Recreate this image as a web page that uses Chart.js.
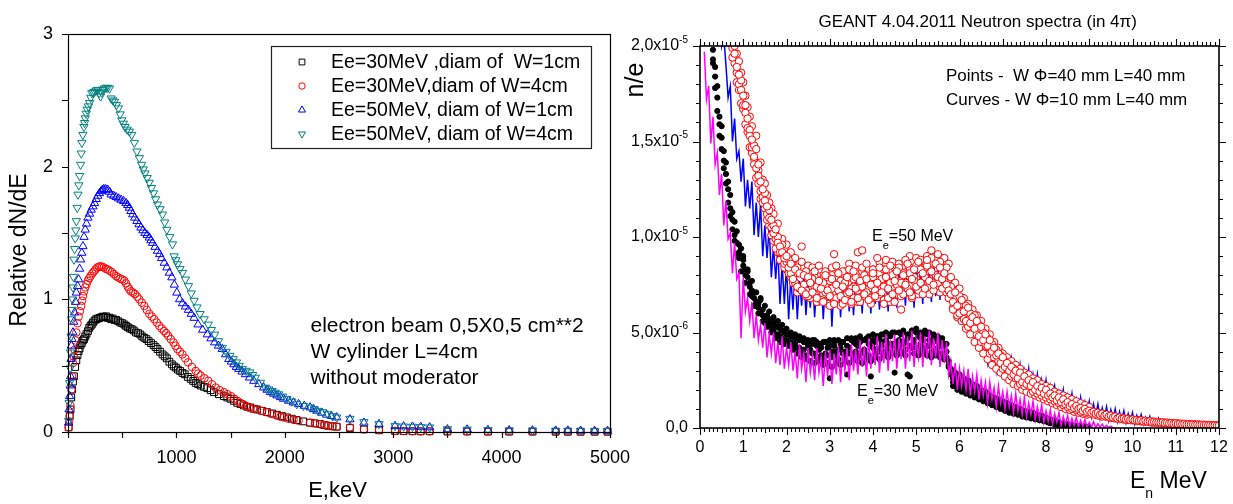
<!DOCTYPE html>
<html><head><meta charset="utf-8">
<script src="https://cdn.jsdelivr.net/npm/chart.js@4.4.1/dist/chart.umd.min.js"></script>
<style>
html,body{margin:0;padding:0;background:#fff;overflow:hidden;}
#wrap{position:relative;width:1233px;height:504px;}
canvas{position:absolute;top:0;}
#left{left:0;}
#right{left:620px;}
</style></head><body>
<div id="wrap"><canvas id="left" width="650" height="504"></canvas><canvas id="right" width="613" height="504"></canvas></div>
<script>
// ================= LEFT PANEL DATA =================
const leftLegendLabels = ['Ee=30MeV ,diam of  W=1cm','Ee=30MeV,diam of W=4cm','Ee=50MeV, diam of W=1cm','Ee=50MeV, diam of W=4cm'];
const leftXTickLabels = [1000,2000,3000,4000,5000];
const leftYTickLabels = [0,1,2,3];
const leftXTitle = 'E,keV';
const leftYTitle = 'Relative dN/dE';
const leftNotes = ['electron beam 0,5X0,5 cm**2','W cylinder L=4cm','without moderator'];

// [E keV, relative dN/dE]
const sq30_1 = [[6,0.035],[16,0.12],[24,0.17],[30,0.26],[37,0.32],[46,0.38],[55,0.42],[66,0.49],[77,0.54],[88,0.58],[98,0.61],[107,0.63],[116,0.655],[127,0.67],[138,0.69],[148,0.70],[159,0.72],[171,0.74],[184,0.76],[196,0.785],[208,0.80],[219,0.81],[230,0.825],[245,0.84],[260,0.85],[275,0.855],[291,0.86],[306,0.865],[321,0.87],[336,0.865],[352,0.872],[367,0.86],[383,0.862],[398,0.85],[413,0.855],[428,0.845],[444,0.845],[463,0.835],[483,0.825],[501,0.82],[520,0.81],[535,0.80],[551,0.79],[570,0.78],[588,0.775],[607,0.765],[627,0.75],[647,0.745],[667,0.735],[685,0.72],[704,0.71],[724,0.70],[744,0.685],[766,0.67],[789,0.655],[808,0.64],[826,0.625],[849,0.605],[872,0.585],[892,0.57],[912,0.555],[935,0.53],[958,0.51],[976,0.495],[995,0.485],[1014,0.47],[1034,0.46],[1056,0.445],[1077,0.435],[1105,0.415],[1132,0.40],[1155,0.385],[1178,0.37],[1201,0.36],[1224,0.35],[1255,0.34],[1285,0.33],[1316,0.315],[1346,0.30],[1392,0.285],[1438,0.27],[1469,0.26],[1499,0.25],[1530,0.235],[1561,0.22],[1592,0.21],[1622,0.20],[1653,0.19],[1683,0.185],[1714,0.175],[1744,0.17],[1790,0.16],[1836,0.15],[1882,0.14],[1928,0.13],[1974,0.12],[2020,0.11],[2065,0.10],[2110,0.09],[2170,0.08],[2232,0.07],[2280,0.065],[2325,0.06],[2365,0.052],[2401,0.047],[2440,0.043],[2479,0.04],[2601,0.03],[2730,0.02],[2869,0.013],[3017,0.008],[3096,0.007],[3178,0.006],[3254,0.005],[3336,0.005],[3500,0.004],[3682,0.004],[3874,0.003],[4070,0.003],[4285,0.003],[4499,0.002],[4611,0.002],[4729,0.002],[4858,0.002],[4977,0.002]];
const ci30_4 = [[6,0.035],[10,0.08],[15,0.12],[22,0.2],[31,0.32],[38,0.42],[46,0.52],[53,0.57],[61,0.62],[69,0.69],[77,0.75],[88,0.82],[98,0.87],[110,0.91],[122,0.95],[130,0.99],[138,1.025],[148,1.06],[159,1.09],[171,1.115],[184,1.14],[196,1.16],[208,1.175],[224,1.195],[239,1.21],[254,1.225],[269,1.24],[285,1.245],[300,1.25],[315,1.245],[330,1.24],[348,1.23],[367,1.225],[385,1.215],[404,1.205],[424,1.19],[444,1.175],[463,1.165],[483,1.155],[501,1.15],[520,1.14],[535,1.12],[551,1.095],[566,1.075],[581,1.06],[600,1.05],[618,1.04],[638,1.02],[658,1.0],[681,0.975],[704,0.95],[727,0.92],[750,0.89],[773,0.87],[796,0.85],[819,0.825],[842,0.80],[865,0.78],[887,0.76],[905,0.745],[924,0.725],[948,0.70],[973,0.675],[991,0.65],[1010,0.625],[1033,0.605],[1056,0.585],[1082,0.555],[1108,0.525],[1143,0.49],[1178,0.46],[1201,0.44],[1224,0.425],[1259,0.405],[1294,0.385],[1328,0.36],[1362,0.335],[1400,0.315],[1438,0.30],[1471,0.285],[1505,0.27],[1533,0.25],[1561,0.235],[1588,0.22],[1616,0.21],[1642,0.195],[1668,0.185],[1706,0.175],[1744,0.17],[1790,0.158],[1836,0.148],[1882,0.135],[1928,0.123],[1960,0.115],[1989,0.11],[2035,0.10],[2080,0.092],[2127,0.085],[2232,0.07],[2280,0.065],[2325,0.058],[2365,0.052],[2401,0.047],[2440,0.043],[2479,0.04],[2601,0.035],[2730,0.02],[2869,0.015],[3017,0.008],[3096,0.007],[3178,0.006],[3254,0.005],[3336,0.005],[3500,0.004],[3682,0.004],[3874,0.003],[4070,0.003],[4285,0.003],[4499,0.002],[4611,0.002],[4729,0.002],[4858,0.002],[4977,0.002]];
const tu50_1 = [[6,0.07],[10,0.17],[15,0.27],[20,0.35],[24,0.42],[28,0.55],[31,0.65],[38,0.70],[46,0.75],[53,0.83],[61,0.90],[69,0.98],[77,1.05],[88,1.10],[98,1.15],[107,1.23],[116,1.30],[127,1.35],[138,1.40],[148,1.47],[159,1.525],[171,1.57],[184,1.615],[199,1.645],[214,1.675],[230,1.70],[245,1.725],[260,1.755],[275,1.78],[290,1.80],[306,1.815],[318,1.825],[330,1.83],[348,1.83],[367,1.825],[383,1.81],[398,1.79],[421,1.78],[444,1.77],[467,1.76],[490,1.75],[513,1.74],[536,1.725],[551,1.71],[566,1.69],[581,1.665],[597,1.64],[616,1.615],[636,1.59],[655,1.565],[673,1.54],[691,1.52],[710,1.50],[730,1.485],[750,1.465],[765,1.445],[780,1.425],[803,1.395],[826,1.365],[845,1.34],[863,1.31],[888,1.275],[912,1.24],[935,1.20],[958,1.165],[981,1.11],[1004,1.05],[1030,1.0],[1056,0.97],[1083,0.945],[1111,0.92],[1137,0.89],[1163,0.86],[1200,0.81],[1242,0.77],[1285,0.735],[1319,0.705],[1353,0.675],[1388,0.65],[1423,0.625],[1454,0.585],[1484,0.55],[1507,0.53],[1530,0.51],[1553,0.49],[1576,0.475],[1606,0.455],[1637,0.435],[1675,0.41],[1714,0.385],[1760,0.36],[1805,0.335],[1836,0.318],[1867,0.30],[1898,0.288],[1928,0.275],[1960,0.262],[1989,0.25],[2035,0.235],[2080,0.222],[2127,0.21],[2180,0.197],[2234,0.185],[2265,0.172],[2295,0.16],[2340,0.145],[2385,0.13],[2430,0.12],[2479,0.11],[2601,0.095],[2730,0.07],[2869,0.06],[3017,0.045],[3096,0.042],[3178,0.04],[3254,0.038],[3336,0.035],[3500,0.02],[3682,0.018],[3874,0.015],[4070,0.013],[4285,0.012],[4499,0.01],[4611,0.01],[4729,0.009],[4858,0.008],[4977,0.008]];
const td50_4 = [[6,0.085],[10,0.22],[15,0.37],[20,0.48],[24,0.60],[28,0.72],[33,0.85],[37,0.92],[42,1.0],[46,1.09],[50,1.17],[55,1.30],[61,1.38],[67,1.46],[72,1.52],[77,1.59],[85,1.69],[92,1.79],[100,1.86],[107,1.93],[116,2.015],[122,2.10],[128,2.18],[137,2.24],[147,2.30],[153,2.33],[159,2.365],[168,2.40],[177,2.43],[188,2.455],[199,2.48],[210,2.52],[220,2.555],[232,2.56],[245,2.565],[260,2.575],[275,2.58],[288,2.555],[300,2.53],[311,2.56],[321,2.58],[336,2.59],[352,2.595],[367,2.595],[383,2.59],[398,2.515],[413,2.50],[428,2.49],[447,2.465],[465,2.44],[481,2.395],[496,2.35],[511,2.325],[526,2.30],[546,2.28],[566,2.265],[588,2.24],[612,2.18],[636,2.115],[658,2.065],[679,2.015],[695,1.98],[710,1.95],[730,1.915],[750,1.88],[770,1.84],[789,1.80],[808,1.755],[826,1.715],[849,1.68],[872,1.64],[892,1.58],[912,1.525],[938,1.47],[964,1.415],[979,1.325],[995,1.295],[1010,1.265],[1033,1.23],[1056,1.20],[1083,1.15],[1111,1.10],[1137,1.045],[1163,0.99],[1190,0.94],[1218,0.89],[1256,0.85],[1294,0.81],[1323,0.77],[1353,0.735],[1388,0.685],[1423,0.635],[1458,0.605],[1493,0.575],[1524,0.55],[1554,0.525],[1580,0.50],[1607,0.475],[1642,0.462],[1677,0.45],[1703,0.43],[1729,0.41],[1775,0.372],[1821,0.335],[1852,0.322],[1882,0.31],[1912,0.297],[1943,0.285],[1981,0.268],[2020,0.25],[2065,0.23],[2111,0.21],[2172,0.197],[2234,0.185],[2272,0.172],[2310,0.16],[2350,0.15],[2395,0.135],[2440,0.12],[2479,0.11],[2601,0.10],[2730,0.075],[2869,0.06],[3017,0.045],[3096,0.042],[3178,0.04],[3254,0.038],[3336,0.035],[3500,0.022],[3682,0.018],[3874,0.015],[4070,0.013],[4285,0.012],[4499,0.01],[4611,0.01],[4729,0.009],[4858,0.008],[4977,0.008]];

// ================= RIGHT PANEL DATA =================
const rightTitle = 'GEANT 4.04.2011 Neutron spectra (in 4\u03C0)';
const rightNotes = ['Points -  W \u03A6=40 mm L=40 mm','Curves - W \u03A6=10 mm L=40 mm'];
const rightXTickLabels = ['0','1','2','3','4','5','6','7','8','9','10','11','12'];
const rightYTickValues = [0,5,10,15,20];            // units of 1e-6
const rightYTickLabels = [['0,0',''],['5,0x10','-6'],['1,0x10','-5'],['1,5x10','-5'],['2,0x10','-5']];

// neutron energy bins, MeV
const binE = [0.1,0.15,0.2,0.25,0.3,0.35,0.4,0.45,0.5,0.55,0.6,0.65,0.7,0.75,0.8,0.85,0.9,0.95,1,1.05,
1.1,1.15,1.2,1.25,1.3,1.35,1.4,1.45,1.5,1.55,1.6,1.65,1.7,1.75,1.8,1.85,1.9,1.95,2,2.05,
2.1,2.15,2.2,2.25,2.3,2.35,2.4,2.45,2.5,2.55,2.6,2.65,2.7,2.75,2.8,2.85,2.9,2.95,3,3.05,
3.1,3.15,3.2,3.25,3.3,3.35,3.4,3.45,3.5,3.55,3.6,3.65,3.7,3.75,3.8,3.85,3.9,3.95,4,4.05,
4.1,4.15,4.2,4.25,4.3,4.35,4.4,4.45,4.5,4.55,4.6,4.65,4.7,4.75,4.8,4.85,4.9,4.95,5,5.05,
5.1,5.15,5.2,5.25,5.3,5.35,5.4,5.45,5.5,5.55,5.6,5.65,5.7,5.75,5.8,5.85,5.9,5.95,6,6.05,
6.1,6.15,6.2,6.25,6.3,6.35,6.4,6.45,6.5,6.55,6.6,6.65,6.7,6.75,6.8,6.85,6.9,6.95,7,7.05,
7.1,7.15,7.2,7.25,7.3,7.35,7.4,7.45,7.5,7.55,7.6,7.65,7.7,7.75,7.8,7.85,7.9,7.95,8,8.05,
8.1,8.15,8.2,8.25,8.3,8.35,8.4,8.45,8.5,8.55,8.6,8.65,8.7,8.75,8.8,8.85,8.9,8.95,9,9.05,
9.1,9.15,9.2,9.25,9.3,9.35,9.4,9.45,9.5,9.55,9.6,9.65,9.7,9.75,9.8,9.85,9.9,9.95,10,10.05,
10.1,10.15,10.2,10.25,10.3,10.35,10.4,10.45,10.5,10.55,10.6,10.65,10.7,10.75,10.8,10.85,10.9,10.95,11,11.05,
11.1,11.15,11.2,11.25,11.3,11.35,11.4,11.45,11.5,11.55,11.6,11.65,11.7,11.75,11.8,11.85,11.9,11.95,12];

// n/e in units of 1e-6; each series starts at the given binE index
const magentaFrom = 0;   // curve, W phi=10 mm, Ee=30 MeV
const magenta10 = [19.7,17.2,17.9,14.9,16.3,13.8,14.4,12.2,13.3,10.6,
11.9,9.9,10.2,8.1,9.7,7.8,8.1,4.7,7.9,6.1,
6.8,5.6,6.6,4.7,5.9,4.6,5.4,4.2,5.5,3.7,
4.9,3.9,5.0,3.4,4.5,3.3,4.8,3.1,4.2,3.3,
4.5,3.0,4.0,2.6,4.4,3.1,3.9,2.4,4.2,2.9,
3.8,2.5,4.2,2.9,3.7,2.2,4.0,2.7,4.1,2.3,
3.9,2.8,4.3,2.4,4.0,3.0,4.2,2.5,4.4,3.0,
4.1,2.8,4.6,3.2,4.3,2.7,4.7,3.1,4.4,3.3,
4.8,2.9,4.5,3.4,4.9,3.0,4.6,3.5,4.9,3.1,
4.7,3.6,5.0,3.1,4.8,3.5,5.1,3.2,4.6,3.7,
5.0,3.2,4.8,3.6,5.1,3.3,4.7,3.7,5.0,3.2,
4.6,3.4,4.5,2.8,3.5,2.3,3.4,2.0,3.1,2.2,
3.0,2.0,3.1,1.7,2.7,1.9,2.8,1.5,2.5,1.7,
2.4,1.3,2.4,1.5,2.1,1.1,2.2,1.3,1.9,1.0,
1.9,1.1,1.7,0.8,1.8,0.9,1.5,0.7,1.6,0.6,
1.3,0.7,1.4,0.45,1.1,0.5,1.2,0.3,0.9,0.35,
0.95,0.2,0.75,0.3,0.8,0.12,0.6,0.2,0.65,0.08,
0.5,0.12,0.55,0.05,0.4,0.08,0.45,0.03,0.3,0.05,
0.32,0.02,0.22,0.03,0.2,0.01,0.14,0.02,0.1,0.01,0];

const blueFrom = 7;      // curve, W phi=10 mm, Ee=50 MeV
const blue10 = [22.5,20.0,20.5,
19.0,17.3,17.9,15.0,16.2,14.1,14.5,12.9,14.1,11.6,
13.0,11.5,12.9,10.1,11.8,10.0,11.7,9.0,10.6,8.9,
10.5,7.9,9.5,7.8,9.4,6.5,8.6,6.5,8.5,5.7,
7.9,6.2,8.2,5.7,7.7,6.4,8.1,5.9,7.6,6.3,
8.0,5.8,7.5,6.4,7.9,5.7,7.6,6.5,8.0,5.3,
7.6,6.4,8.1,5.8,7.7,6.5,8.0,6.1,7.6,5.9,
8.1,6.4,7.8,6.0,8.2,6.6,7.8,6.0,8.3,6.5,
7.9,6.2,8.4,6.7,8.0,6.1,8.5,6.6,8.0,6.3,
8.6,6.7,8.1,6.4,8.6,6.8,8.2,6.3,8.7,6.9,
8.3,6.5,8.8,7.0,8.4,6.6,9.0,6.9,8.5,6.7,
9.1,7.1,8.9,6.6,7.8,6.0,7.5,5.9,6.8,5.8,
7.0,5.3,6.3,5.1,6.2,4.4,5.8,4.3,5.0,4.0,
5.0,3.5,4.4,3.4,4.4,3.0,3.8,3.0,3.9,2.7,
3.5,2.7,3.6,2.4,3.2,2.5,3.3,2.2,3.0,2.3,
3.1,2.0,2.8,2.1,2.8,1.7,2.5,1.8,2.5,1.5,
2.2,1.6,2.2,1.3,1.9,1.4,2.0,1.0,1.7,1.1,
1.8,0.85,1.5,0.95,1.6,0.75,1.35,0.8,1.4,0.6,
1.25,0.65,1.25,0.5,1.05,0.55,1.1,0.4,0.95,0.45,
1.0,0.35,0.85,0.4,0.9,0.28,0.75,0.33,0.8,0.22,
0.65,0.28,0.7,0.2,0.55,0.22,0.6,0.15,0.45,0.18,
0.5,0.13,0.4,0.15,0.42,0.1,0.33,0.12,0.35,0.08,
0.28,0.1,0.3,0.06,0.22,0.07,0.24,0.04,0.18,0.06,
0.2,0.03,0.14,0.05,0.15,0.02,0.09,0.04,0.08];

const blackFrom = 4;     // points, W phi=40 mm, Ee=30 MeV
const black40a = [19.8,18.4,17.3,15.9,15.2,14.0,
13.3,12.5,11.5,10.9,10.1,9.7,9.2,9.0,8.5,8.3,
7.9,7.4,7.2,6.8,6.6,6.3,6.7,5.9,5.8,5.6,
5.4,5.6,5.1,5.3,4.9,5.2,4.7,5.0,4.6,4.9,
4.5,4.8,4.4,4.7,4.2,4.6,4.1,4.5,4.3,4.0,
4.4,3.9,4.3,4.1,3.8,4.5,3.9,4.2,2.6,4.0,
4.3,3.8,4.1,4.4,3.9,4.0,2.8,4.2,3.9,4.5,
4.0,4.3,3.9,4.6,4.1,3.8,4.4,2.7,4.2,4.5,
4.1,4.7,4.3,4.0,4.6,4.2,4.8,4.4,2.9,4.5,
4.2,4.9,4.4,4.1,4.7,4.3,5.1,4.5,4.2,4.8,
4.4,4.6,4.1,4.9,4.3,4.5,4.0,4.7,4.2,4.4,
3.9,4.3,3.7,3.5,2.8,2.6,2.4,2.7,2.3,2.6,
2.2,2.5,2.1,2.3,1.9,2.2,1.8,2.0,1.7,1.9,
1.6,1.8,1.5,1.6,1.4,1.5,1.3,1.4,1.15,1.3,
1.05,1.2,0.95,1.1,0.9,1.0,0.8,0.9,0.75,0.85,
0.7,0.75,0.6,0.7,0.5,0.6,0.45,0.55,0.35,0.4,
0.3,0.25,0.2,0.22,0.15,0.18,0.12,0.14,0.1,0.08,
0.07,0.06,0.05,0.05,0.04,0.03,0.03,0.02,0.02];
const black40b = [19.3,18.9,16.6,16.3,14.6,14.5,
12.8,12.9,11.1,11.3,9.8,10.3,8.9,9.4,8.8,8.0,
8.2,7.6,6.9,7.1,6.4,6.5,6.0,6.2,5.5,5.9,
5.7,5.2,5.5,4.9,5.3,4.8,5.1,4.6,4.9,4.4,
4.8,4.3,4.7,4.2,4.6,4.0,4.5,3.8,4.4,4.1,
3.9,4.6,3.7,4.4,4.2,3.6,4.5,3.8,4.3,3.7,
4.6,4.0,3.6,4.2,4.5,3.7,4.3,3.9,4.7,3.8,
4.4,3.7,4.5,4.0,3.9,4.7,3.8,4.3,4.6,3.9,
4.8,4.0,4.5,4.9,3.9,4.4,4.1,5.0,4.3,4.0,
4.6,4.0,5.0,4.5,2.8,4.9,4.2,4.6,5.2,4.1,
4.7,4.2,5.1,4.3,4.6,4.0,4.8,4.1,4.5,3.9,
4.5,3.6,4.0,3.2,3.0,2.4,2.7,2.2,2.5,2.1,
2.4,2.0,2.3,1.9,2.1,1.7,2.0,1.6,1.8,1.5,
1.7,1.4,1.6,1.3,1.5,1.2,1.35,1.1,1.2,1.0,
1.1,0.9,1.0,0.85,0.95,0.8,0.85,0.7,0.8,0.65,
0.6,0.65,0.55,0.5,0.6,0.45,0.5,0.4,0.45,0.3,
0.25,0.3,0.18,0.2,0.15,0.12,0.1,0.1,0.08,0.06,
0.05,0.05,0.04,0.04,0.03,0.03,0.02,0.02,0.01];
const black40c = [19.1,17.8,17.9,15.3,15.8,13.6,
13.9,11.8,12.2,10.4,10.8,9.1,9.6,8.2,9.0,7.6,
8.3,7.0,7.7,6.4,7.1,6.0,6.8,5.6,6.4,5.3,
6.1,5.0,5.8,4.7,5.6,4.5,5.4,4.4,5.2,4.3,
5.0,4.1,4.9,3.9,4.8,3.7,4.7,3.6,4.6,3.5,
4.6,3.4,4.5,3.5,4.4,3.3,4.5,3.4,4.6,3.2,
4.5,3.4,4.6,3.3,4.5,3.5,4.7,3.4,4.6,3.6,
4.7,3.5,4.8,3.4,4.6,3.6,4.8,3.5,4.9,3.7,
4.8,3.6,4.9,3.8,5.0,3.7,4.9,3.9,5.0,3.8,
5.0,3.9,5.1,3.8,4.9,2.7,5.1,3.9,5.0,3.8,
5.0,3.9,4.9,3.8,5.0,3.7,4.9,3.8,4.8,3.7,
4.7,3.6,4.4,3.3,3.1,2.2,2.9,2.0,2.8,1.9,
2.6,1.8,2.5,1.7,2.3,1.6,2.2,1.5,2.0,1.4,
1.9,1.3,1.7,1.2,1.6,1.1,1.5,1.0,1.4,0.9,
1.3,0.8,1.2,0.75,1.1,0.7,1.0,0.6,0.9,0.55,
0.85,0.5,0.8,0.45,0.7,0.4,0.65,0.35,0.55,0.3,
0.45,0.25,0.4,0.2,0.3,0.15,0.25,0.12,0.2,0.1,
0.15,0.08,0.12,0.06,0.1,0.05,0.08,0.04,0.05];

const redFrom = 13;      // points, W phi=40 mm, Ee=50 MeV
const red40a = [20.3,19.6,18.9,18.5,17.7,17.4,16.5,
16.2,15.3,15.1,14.2,14.6,13.2,12.9,12.5,11.9,11.6,
11.0,10.9,10.2,10.4,9.7,9.5,9.2,8.9,9.0,8.4,
8.6,7.8,8.3,7.4,8.1,7.2,8.0,7.0,7.9,7.6,
7.1,8.2,6.8,7.7,7.3,6.6,8.0,7.2,6.9,7.8,
6.5,7.5,8.1,6.9,7.4,6.7,7.9,7.1,6.6,8.2,
7.3,6.8,7.7,9.3,7.0,7.8,6.7,7.5,8.1,6.9,
7.6,8.4,7.1,6.5,7.9,7.3,8.5,7.0,7.7,8.2,
7.2,6.2,8.0,7.5,8.6,7.1,7.8,8.3,7.4,8.7,
7.6,8.1,7.3,8.8,7.7,8.2,7.5,8.6,7.9,8.4,
7.8,8.1,7.5,7.2,7.0,6.6,7.1,6.4,6.0,6.7,
6.1,5.6,6.3,5.5,5.8,5.2,5.6,4.8,5.3,4.6,
4.9,4.3,4.6,4.0,4.2,3.8,3.9,3.4,3.7,3.2,
3.4,3.0,3.2,2.8,3.0,2.6,2.9,2.4,2.7,2.3,
2.5,2.2,2.4,2.0,2.2,1.9,2.1,1.8,2.0,1.7,
1.8,1.6,1.7,1.45,1.6,1.35,1.5,1.25,1.35,1.15,
1.25,1.05,1.15,1.0,1.05,0.9,1.0,0.85,0.9,0.8,
0.85,0.75,0.8,0.7,0.75,0.65,0.7,0.6,0.65,0.55,
0.6,0.5,0.55,0.48,0.5,0.45,0.48,0.42,0.45,0.4,
0.42,0.38,0.4,0.35,0.38,0.33,0.35,0.3,0.33,0.3,
0.3,0.28,0.3,0.26,0.28,0.24,0.26,0.22,0.25,0.21,
0.23,0.2,0.22,0.19,0.2,0.18,0.19,0.17,0.18,0.16,
0.17,0.15,0.16,0.14,0.15,0.13,0.14,0.12,0.13];
const red40b = [19.9,20.0,18.6,18.0,18.2,16.9,16.9,
15.7,15.6,14.7,14.8,13.6,13.8,12.4,12.1,12.3,11.2,
11.4,10.5,10.6,9.9,10.0,9.2,9.6,8.6,8.7,8.8,
8.1,8.5,7.6,8.4,7.3,9.5,7.5,8.2,6.9,7.7,
7.8,7.0,7.4,8.5,6.7,7.6,7.1,7.9,6.4,7.3,
9.1,6.8,7.2,7.7,6.5,7.6,7.0,8.3,7.3,6.8,
7.9,9.2,6.6,7.4,8.0,7.1,7.6,6.8,7.9,7.2,
8.9,7.0,7.8,7.4,8.3,6.8,7.6,8.0,6.6,7.5,
8.4,7.6,7.0,8.8,7.3,8.1,6.9,7.7,8.5,7.2,
8.3,7.0,7.9,8.5,7.4,9.3,7.2,8.0,7.6,8.7,
7.3,7.7,8.4,6.8,7.4,6.2,6.8,5.9,6.9,6.1,
5.7,6.4,5.3,6.0,5.4,5.9,4.9,5.4,4.5,5.0,
4.4,4.7,3.9,4.4,3.7,4.1,3.5,3.8,3.1,3.5,
3.1,3.3,2.7,3.1,2.6,2.9,2.3,2.7,2.2,2.5,
2.2,2.4,1.9,2.2,1.8,2.1,1.7,1.9,1.6,1.8,
1.5,1.7,1.4,1.55,1.3,1.45,1.2,1.35,1.1,1.25,
1.0,1.15,0.95,1.05,0.85,0.95,0.8,0.9,0.75,0.85,
0.7,0.8,0.65,0.75,0.6,0.7,0.58,0.65,0.52,0.6,
0.5,0.55,0.46,0.52,0.44,0.48,0.42,0.45,0.4,0.42,
0.36,0.4,0.34,0.38,0.32,0.36,0.3,0.34,0.28,0.32,
0.27,0.3,0.25,0.28,0.24,0.27,0.22,0.25,0.21,0.24,
0.2,0.22,0.19,0.21,0.18,0.2,0.17,0.19,0.16,0.18,
0.15,0.17,0.14,0.16,0.13,0.15,0.12,0.14,0.12];
const red40c = [19.4,20.6,18.1,19.2,17.0,18.1,15.9,
16.8,14.7,15.8,13.8,15.3,12.8,13.9,11.8,12.8,10.9,
11.8,10.1,11.2,9.4,10.7,8.8,9.9,8.4,9.6,8.1,
9.2,7.6,8.9,8.1,7.3,8.7,7.1,6.9,8.5,6.8,
8.4,7.9,6.6,8.3,6.8,7.0,8.2,6.5,7.7,8.4,
6.6,8.5,7.9,6.4,8.2,7.5,6.8,8.6,6.5,7.8,
8.5,6.6,7.4,8.4,6.9,8.6,7.6,6.5,8.3,7.1,
6.8,8.7,7.7,6.7,8.8,7.3,6.6,8.7,7.9,7.0,
8.6,6.9,8.1,8.7,7.1,9.0,6.8,7.9,8.9,7.0,
8.8,7.2,8.4,9.0,7.0,8.9,7.6,7.3,9.1,7.1,
7.4,8.9,7.1,8.6,7.9,6.3,7.6,5.8,7.3,5.6,
6.8,5.2,6.5,4.9,6.2,4.5,5.9,4.2,5.6,3.9,
5.2,3.6,4.9,3.3,4.5,3.1,4.2,2.9,3.9,2.7,
3.7,2.5,3.5,2.3,3.3,2.2,3.1,2.0,2.9,1.9,
2.8,1.8,2.6,1.7,2.5,1.6,2.3,1.5,2.2,1.4,
2.1,1.3,1.9,1.2,1.8,1.1,1.7,1.0,1.6,0.95,
1.5,0.85,1.4,0.8,1.3,0.75,1.2,0.7,1.1];
const red40d = [20.8,19.1,19.6,17.7,18.6,16.7,17.4,
15.5,16.3,14.4,14.1,13.1,13.5,12.0,13.0,11.5,12.2,
10.6,11.5,9.8,10.1,9.2,9.9,8.7,9.4,8.3,9.1,
7.9,8.8,7.6,7.1,8.6,7.4,8.4,7.2,7.8,8.1,
7.0,7.4,8.0,7.1,6.9,7.8,7.5,7.9,7.0,8.0,
7.7,7.1,8.1,7.3,7.6,8.2,7.0,7.5,8.0,7.4,
8.1,7.2,7.7,8.2,7.4,8.0,7.3,7.9,8.3,7.5,
7.8,8.1,7.3,8.3,7.9,7.5,8.2,7.4,8.4,7.6,
8.3,7.7,8.5,7.6,8.0,8.4,7.5,8.3,7.8,8.5,
7.6,8.1,8.5,7.8,8.4,7.6,8.6,8.0,7.7,8.6,
7.6,8.3,7.4,7.8,7.1,7.2,6.7,6.9,6.3,6.5,
5.9,6.2,5.6,5.8,5.2,5.5,4.9,5.1,4.6,4.8,
4.3,4.5,4.0,4.2,3.7,3.9,3.5,3.6,3.3,3.4,
3.1,3.2,2.9,3.0,2.8,2.8,2.6,2.7,2.5,2.5,
2.3,2.4,2.2,2.2,2.0,2.1,1.9,2.0,1.8,1.8,
1.7,1.7,1.6,1.6,1.45,1.5,1.35,1.4,1.25,1.3,
1.15,1.2,1.05,1.1,1.0,1.0,0.9,0.95,0.85];

// ================= HELPERS =================
const FONT = '"Liberation Sans", Arial, Helvetica, sans-serif';
function toXY(pairs){ return pairs.map(p => ({x:p[0], y:p[1]})); }
function series(ys, from){
  const out = [];
  ys.forEach((y,i) => { if (from+i < binE.length) out.push({x: binE[from+i], y}); });
  return out;
}
function drawRich(ctx, parts, x, y){
  let cx = x;
  ctx.textAlign = 'left'; ctx.textBaseline = 'middle';
  for (const p of parts){
    ctx.font = p[1] + 'px ' + FONT;
    ctx.fillText(p[0], cx, y + p[2]);
    cx += ctx.measureText(p[0]).width;
  }
}

// ================= LEFT DECORATION =================
const leftDecor = {
  id: 'leftDecor',
  afterDraw(chart){
    const ctx = chart.ctx, a = chart.chartArea, xs = chart.scales.x, ys = chart.scales.y;
    ctx.save();
    ctx.strokeStyle = '#000'; ctx.lineWidth = 1.2;
    ctx.strokeRect(Math.round(a.left)+0.5, Math.round(a.top)+0.5, Math.round(a.right-a.left), Math.round(a.bottom-a.top));
    ctx.beginPath();
    for (let k = 0; k <= 10; k++){
      const px = Math.round(xs.getPixelForValue(k*500)) + 0.5;
      ctx.moveTo(px, a.bottom); ctx.lineTo(px, a.bottom + 6);
    }
    for (let k = 0; k <= 6; k++){
      const py = Math.round(ys.getPixelForValue(k*0.5)) + 0.5;
      ctx.moveTo(a.left, py); ctx.lineTo(a.left - 6, py);
    }
    ctx.stroke();

    // legend box
    const L = {x0:271.5, y0:46.5, x1:591.5, y1:148.5, mx:302, tx:331, rows:[62,86,110,134]};
    ctx.fillStyle = '#fff'; ctx.fillRect(L.x0, L.y0, L.x1-L.x0, L.y1-L.y0);
    ctx.strokeStyle = '#222'; ctx.lineWidth = 1.2; ctx.strokeRect(L.x0, L.y0, L.x1-L.x0, L.y1-L.y0);
    chart.data.datasets.forEach((ds, i) => {
      ctx.strokeStyle = ds.borderColor; ctx.fillStyle = 'rgba(0,0,0,0)'; ctx.lineWidth = ds.borderWidth;
      Chart.helpers.drawPoint(ctx, {pointStyle: ds.pointStyle, radius: ds.pointRadius*0.85, rotation: ds.pointRotation || 0, borderWidth: ds.borderWidth}, L.mx, L.rows[i]);
      ctx.fillStyle = '#000'; ctx.font = '19.5px ' + FONT; ctx.textAlign = 'left'; ctx.textBaseline = 'middle';
      ctx.fillText(ds.label, L.tx, L.rows[i] + 1);
    });

    // titles
    ctx.fillStyle = '#000';
    ctx.save(); ctx.translate(20, 250); ctx.rotate(-Math.PI/2);
    ctx.font = '23px ' + FONT; ctx.textAlign = 'center'; ctx.textBaseline = 'middle';
    ctx.fillText(leftYTitle, 0, 0); ctx.restore();
    ctx.font = '22px ' + FONT; ctx.textAlign = 'center'; ctx.textBaseline = 'middle';
    ctx.fillText(leftXTitle, 337.5, 491);
    // notes
    ctx.font = '21px ' + FONT; ctx.textAlign = 'left'; ctx.textBaseline = 'alphabetic';
    [331.5, 357.5, 383.5].forEach((by, i) => ctx.fillText(leftNotes[i], 310.5, by));
    ctx.restore();
  }
};

// ================= RIGHT DECORATION =================
const rightDecor = {
  id: 'rightDecor',
  afterDraw(chart){
    const ctx = chart.ctx, a = chart.chartArea, xs = chart.scales.x, ys = chart.scales.y;
    ctx.save();
    ctx.strokeStyle = '#000'; ctx.lineWidth = 1.6;
    ctx.strokeRect(a.left, a.top, a.right-a.left, a.bottom-a.top);
    ctx.lineWidth = 1.1;
    ctx.beginPath();
    for (let k = 0; k <= 120; k++){
      const px = Math.round(xs.getPixelForValue(k/10)) + 0.5;
      const len = k % 10 === 0 ? 7 : (k % 5 === 0 ? 5 : 4);
      ctx.moveTo(px, a.bottom); ctx.lineTo(px, a.bottom + len);
      ctx.moveTo(px, a.top); ctx.lineTo(px, a.top - len);
    }
    for (let k = 0; k <= 20; k++){
      const py = Math.round(ys.getPixelForValue(k)) + 0.5;
      const len = k % 5 === 0 ? 7 : 4;
      ctx.moveTo(a.left, py); ctx.lineTo(a.left - len, py);
      ctx.moveTo(a.right, py); ctx.lineTo(a.right + len, py);
    }
    ctx.stroke();

    // y tick labels with exponent
    ctx.fillStyle = '#000';
    rightYTickValues.forEach((v, i) => {
      const py = ys.getPixelForValue(v);
      const base = rightYTickLabels[i][0], ex = rightYTickLabels[i][1];
      ctx.font = '16px ' + FONT; const wb = ctx.measureText(base).width;
      ctx.font = '10px ' + FONT; const we = ex ? ctx.measureText(ex).width : 0;
      const x0 = a.left - 12 - wb - we;
      drawRich(ctx, [[base,16,0],[ex,10,-6]], x0, py);
    });

    // title & texts
    ctx.font = '17px ' + FONT; ctx.textAlign = 'center'; ctx.textBaseline = 'middle';
    ctx.fillText(rightTitle, 357.7, 22);
    ctx.save(); ctx.translate(16, 80); ctx.rotate(-Math.PI/2);
    ctx.font = '25px ' + FONT; ctx.textAlign = 'center'; ctx.fillText('n/e', 0, 0); ctx.restore();
    ctx.font = '17px ' + FONT; ctx.textAlign = 'left';
    ctx.fillText(rightNotes[0], 326, 76);
    ctx.fillText(rightNotes[1], 326, 100);
    drawRich(ctx, [['E',16,0],['e',11,9],['=50 MeV',16,0]], 252, 237);
    drawRich(ctx, [['E',16,0],['e',11,9],['=30 MeV',16,0]], 237, 392);
    drawRich(ctx, [['E',23,0],['n',14,12],[' MeV',23,0]], 510, 482);
    ctx.restore();
  }
};

// ================= CHARTS =================
const common = {
  responsive: false, animation: false, devicePixelRatio: 1, events: [],
  plugins: {legend: {display: false}, tooltip: {enabled: false}}
};

new Chart(document.getElementById('left'), {
  type: 'scatter',
  data: {datasets: [
    {label: leftLegendLabels[0], data: toXY(sq30_1), pointStyle: 'rect', pointRadius: 4.8, borderColor: '#000000', backgroundColor: 'rgba(0,0,0,0)', borderWidth: 1, order: 4, clip: false},
    {label: leftLegendLabels[1], data: toXY(ci30_4), pointStyle: 'circle', pointRadius: 3.8, borderColor: '#ff0000', backgroundColor: 'rgba(0,0,0,0)', borderWidth: 1, order: 3, clip: false},
    {label: leftLegendLabels[2], data: toXY(tu50_1), pointStyle: 'triangle', pointRadius: 4.8, borderColor: '#0000ff', backgroundColor: 'rgba(0,0,0,0)', borderWidth: 1, order: 2, clip: false},
    {label: leftLegendLabels[3], data: toXY(td50_4), pointStyle: 'triangle', pointRotation: 180, pointRadius: 4.8, borderColor: '#008080', backgroundColor: 'rgba(0,0,0,0)', borderWidth: 1, order: 1, clip: false}
  ]},
  options: Object.assign({}, common, {
    layout: {padding: {left: 0, right: 40, top: 34, bottom: 0}},
    scales: {
      x: {type: 'linear', min: 0, max: 5000,
          afterFit(s){ s.height = 72; s.paddingLeft = 0; s.paddingRight = 0; },
          grid: {display: false, drawTicks: false}, border: {display: false},
          ticks: {stepSize: 1000, padding: 15, color: '#000', maxRotation: 0, autoSkip: false,
                  font: {family: FONT, size: 18},
                  callback: v => leftXTickLabels.includes(v) ? String(v) : ''}},
      y: {type: 'linear', min: 0, max: 3,
          afterFit(s){ s.width = 68; s.paddingTop = 0; s.paddingBottom = 0; },
          grid: {display: false, drawTicks: false}, border: {display: false},
          ticks: {stepSize: 1, padding: 15, color: '#000', font: {family: FONT, size: 18},
                  callback: v => leftYTickLabels.includes(v) ? String(v) : ''}}
    }
  }),
  plugins: [leftDecor]
});

const redStyle = {pointStyle: 'circle', pointRadius: 3.7, borderColor: '#ff0000', backgroundColor: '#ffffff', borderWidth: 1, order: 1};
const blackStyle = {pointStyle: 'circle', pointRadius: 2.6, borderColor: '#000000', backgroundColor: '#000000', borderWidth: 1, order: 4};
new Chart(document.getElementById('right'), {
  type: 'scatter',
  data: {datasets: [
    Object.assign({label: 'Points Ee=50 MeV a', data: series(red40a, redFrom)}, redStyle),
    Object.assign({label: 'Points Ee=50 MeV b', data: series(red40b, redFrom)}, redStyle),
    Object.assign({label: 'Points Ee=50 MeV c', data: series(red40c, redFrom)}, redStyle),
    Object.assign({label: 'Points Ee=50 MeV d', data: series(red40d, redFrom)}, redStyle),
    {type: 'line', label: 'Curve Ee=50 MeV', data: series(blue10, blueFrom), borderColor: '#0000ff', borderWidth: 1.5, pointRadius: 0, showLine: true, fill: false, tension: 0, order: 2},
    {type: 'line', label: 'Curve Ee=30 MeV', data: series(magenta10, magentaFrom), borderColor: '#ff00ff', borderWidth: 1.5, pointRadius: 0, showLine: true, fill: false, tension: 0, order: 3},
    Object.assign({label: 'Points Ee=30 MeV a', data: series(black40a, blackFrom)}, blackStyle),
    Object.assign({label: 'Points Ee=30 MeV b', data: series(black40b, blackFrom)}, blackStyle),
    Object.assign({label: 'Points Ee=30 MeV c', data: series(black40c, blackFrom)}, blackStyle)
  ]},
  options: Object.assign({}, common, {
    layout: {padding: {left: 0, right: 14, top: 46, bottom: 0}},
    scales: {
      x: {type: 'linear', min: 0, max: 12,
          afterFit(s){ s.height = 76; s.paddingLeft = 0; s.paddingRight = 0; },
          grid: {display: false, drawTicks: false}, border: {display: false},
          ticks: {stepSize: 1, padding: 10, color: '#000', maxRotation: 0, autoSkip: false,
                  font: {family: FONT, size: 16},
                  callback: v => rightXTickLabels[v] !== undefined ? rightXTickLabels[v] : ''}},
      y: {type: 'linear', min: 0, max: 20,
          afterFit(s){ s.width = 80; s.paddingTop = 0; s.paddingBottom = 0; },
          grid: {display: false, drawTicks: false}, border: {display: false},
          ticks: {display: false, stepSize: 5}}
    }
  }),
  plugins: [rightDecor]
});
</script>
</body></html>
